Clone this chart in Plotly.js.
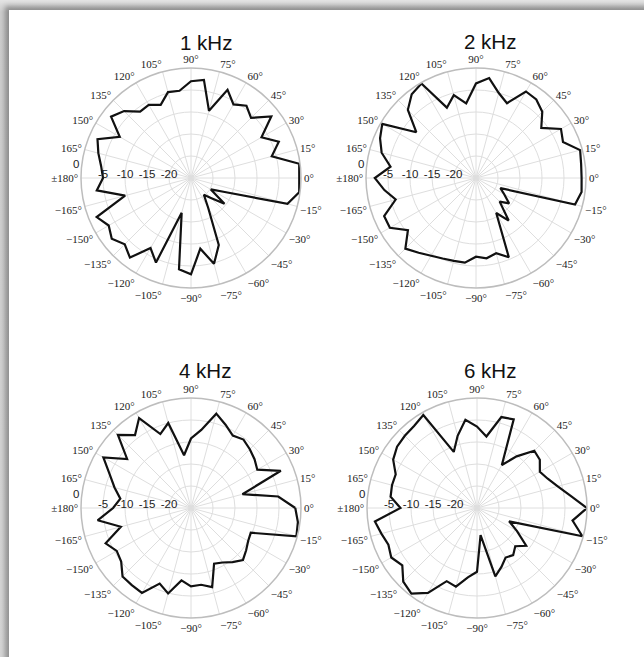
<!DOCTYPE html>
<html>
<head>
<meta charset="utf-8">
<script src="https://cdn.plot.ly/plotly-3.0.1.min.js"></script>
<style>
html,body{margin:0;padding:0;width:644px;height:657px;overflow:hidden;background:#dcdcdc;}
#bg{position:absolute;left:0;top:0;width:644px;height:657px;background:linear-gradient(to bottom,#e4e4e4,#cdcdcd 12px,#d6d6d6);}
#panel{position:absolute;left:9px;top:10px;width:700px;height:700px;background:#fff;box-shadow:-3px -3px 5px 1px rgba(0,0,0,0.32);}
#plot{position:absolute;left:0;top:0;width:644px;height:657px;}
</style>
</head>
<body>
<div id="bg"></div>
<div id="panel"></div>
<div id="plot"></div>
<script>
// Measurement angles (degrees, counterclockwise from 0°)
const angles = [0,7.5,15,22.5,30,37.5,45,52.5,60,67.5,75,82.5,90,97.5,105,112.5,120,127.5,135,142.5,150,157.5,165,172.5,
                180,187.5,195,202.5,210,217.5,225,232.5,240,247.5,255,262.5,270,277.5,285,292.5,300,307.5,315,322.5,330,337.5,345,352.5];

// Relative level (dB) per angle
const level1kHz = [-0.4,-0.2,-6.0,-3.4,-6.5,-2.0,-5.7,-4.3,-5.7,-3.3,-9.2,-2.5,-3.0,-5.0,-4.8,-7.0,-5.8,-6.0,-3.5,-2.1,-6.3,-2.0,-3.2,-4.4,
                   -5.0,-3.4,-9.5,-1.8,-3.4,-2.3,-3.7,-2.2,-6.6,-4.2,-16.8,-4.1,-3.1,-8.8,-4.8,-8.5,-17.2,-20.2,-18.6,-15.4,-19.8,-16.7,-2.3,-0.2];
const level2kHz = [-1.0,-0.9,-0.5,-3.6,-2.7,-6.3,-3.7,-2.5,-2.3,-6.6,-5.0,-2.1,-3.5,-7.9,-5.5,-7.7,-0.2,-1.0,-3.1,-7.9,-0.4,-1.4,-2.8,-5.4,
                   -2.0,-4.0,-6.1,-2.4,-2.4,-5.5,-2.3,-3.6,-4.6,-5.2,-5.5,-5.6,-7.1,-6.6,-7.3,-5.5,-15.8,-12.8,-17.4,-15.5,-17.6,-19.0,-1.7,-0.8];
const level4kHz = [-1.3,-5.0,-12.9,-2.9,-7.6,-6.8,-6.1,-5.4,-6.0,-4.5,-2.8,-7.1,-9.2,-12.9,-5.0,-6.8,-1.4,-4.1,-1.5,-6.7,-2.0,-5.0,-7.0,-8.8,
                   -7.3,-3.6,-8.5,-4.0,-5.5,-5.0,-3.0,-2.9,-2.7,-6.4,-4.9,-8.4,-7.2,-7.4,-6.4,-11.3,-10.7,-9.5,-8.3,-9.2,-10.0,-10.3,-0.2,-0.5];
const level6kHz = [0.0,-3.6,-6.0,-7.6,-8.5,-7.0,-6.6,-10.2,-13.7,-3.2,-3.6,-8.6,-6.5,-4.8,-8.0,-11.2,-0.6,-1.5,-1.8,-2.1,-3.0,-5.0,-5.0,-5.2,
                   -7.6,-1.6,-2.5,-3.2,-2.5,-3.6,-1.3,-0.5,-2.7,-7.0,-6.5,-9.1,-10.5,-18.8,-8.9,-10.5,-12.0,-11.5,-12.7,-10.9,-14.5,-17.1,-0.2,-3.1];

const titles = ['1 kHz','2 kHz','4 kHz','6 kHz'];
const series = [level1kHz, level2kHz, level4kHz, level6kHz];

// Axis ticks
const angTickVals = [0,15,30,45,60,75,90,105,120,135,150,165,180,195,210,225,240,255,270,285,300,315,330,345];
const angTickText = ['0°','15°','30°','45°','60°','75°','90°','105°','120°','135°','150°','165°','±180°',
                     '−165°','−150°','−135°','−120°','−105°','−90°','−75°','−60°','−45°','−30°','−15°'];
const radTickVals = [-20,-15,-10,-5,0];
const radTickText = ['-20','-15','-10','-5',''];   // the outer "0" label is drawn above the ±180° label
const radOuterLabel = '0';

const W = 644, H = 657;
const centers = [[191,178],[476,178],[191,508],[477,508]];
const R = 110;
const titlePos = [[206,42],[490,41],[205,370],[490,370]];

const traces = [];
const layout = {
  width: W, height: H,
  margin: {l:0,r:0,t:0,b:0},
  paper_bgcolor: 'rgba(0,0,0,0)',
  showlegend: false,
  annotations: []
};

series.forEach((vals, i) => {
  const key = i === 0 ? 'polar' : 'polar' + (i + 1);
  traces.push({
    type: 'scatterpolar',
    mode: 'lines',
    subplot: key,
    theta: angles.concat([angles[0]]),
    r: vals.concat([vals[0]]),
    line: {color: '#111', width: 2.2},
    hoverinfo: 'skip'
  });
  const [cx, cy] = centers[i];
  layout[key] = {
    domain: {x: [(cx - R) / W, (cx + R) / W], y: [1 - (cy + R) / H, 1 - (cy - R) / H]},
    bgcolor: '#fff',
    radialaxis: {
      range: [-25, 0], tickmode: 'array', tickvals: radTickVals, ticktext: radTickText,
      angle: 180, side: 'clockwise', showline: false, ticks: '', tickangle: 180,
      gridcolor: '#dedede', gridwidth: 1,
      tickfont: {family: 'Liberation Sans, Arial, sans-serif', size: 11.5, color: '#222'}
    },
    angularaxis: {
      rotation: 0, direction: 'counterclockwise', thetaunit: 'degrees',
      tickmode: 'array', tickvals: angTickVals, ticktext: angTickText, ticks: '',
      showline: true, linecolor: '#bdbdbd', linewidth: 1.5,
      gridcolor: '#dedede', gridwidth: 1,
      tickfont: {family: 'Liberation Serif, Times New Roman, serif', size: 11, color: '#222'}
    }
  };
  layout.annotations.push({
    text: titles[i], xref: 'paper', yref: 'paper',
    x: titlePos[i][0] / W, y: 1 - titlePos[i][1] / H,
    xanchor: 'center', yanchor: 'middle', showarrow: false,
    font: {family: 'Liberation Sans, Arial, sans-serif', size: 20.5, color: '#111'}
  });
  layout.annotations.push({
    text: radOuterLabel, xref: 'paper', yref: 'paper',
    x: (cx - R - 5) / W, y: 1 - (cy - 14) / H,
    xanchor: 'center', yanchor: 'middle', showarrow: false,
    font: {family: 'Liberation Sans, Arial, sans-serif', size: 11.5, color: '#222'}
  });
});

Plotly.newPlot('plot', traces, layout, {staticPlot: true, displayModeBar: false});
</script>
</body>
</html>
